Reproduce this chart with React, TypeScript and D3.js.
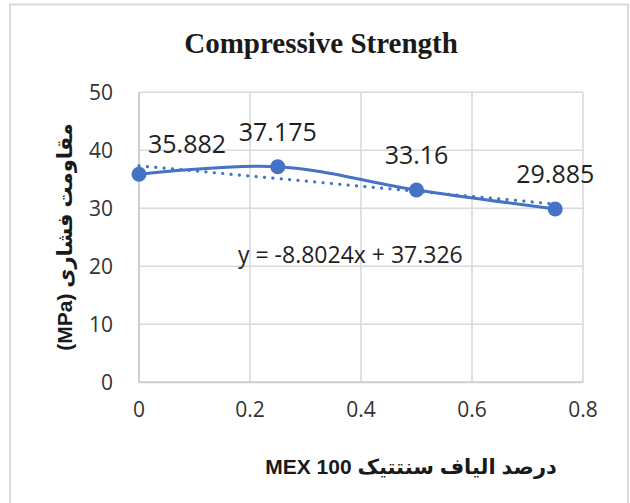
import React from "react";
import * as d3 from "d3";

const fiberPercent = [0, 0.25, 0.5, 0.75];
const strength = [35.882, 37.175, 33.16, 29.885];
const xTicks = [0, 0.2, 0.4, 0.6, 0.8];
const yTicks = [0, 10, 20, 30, 40, 50];
const title = "Compressive Strength";
const xTitle = "درصد الیاف سنتتیک MEX 100";
const yTitle = "مقاومت فشاری  (MPa)";

const W = 630;
const H = 503;
const BLUE = "#4472C4";
const GRID = "#d9d9d9";

export default function App() {
  const x = d3.scaleLinear().domain([0, 0.8]).range([139, 583]);
  const y = d3.scaleLinear().domain([0, 50]).range([382.3, 92.3]);

  const pts: [number, number][] = fiberPercent.map((v, i) => [v, strength[i]]);
  const line = d3
    .line<[number, number]>()
    .x((d) => x(d[0]))
    .y((d) => y(d[1]))
    .curve(d3.curveCatmullRom.alpha(0.5));

  // least squares trendline
  const mx = d3.mean(fiberPercent) as number;
  const my = d3.mean(strength) as number;
  const sxy = d3.sum(fiberPercent.map((v, i) => (v - mx) * (strength[i] - my)));
  const sxx = d3.sum(fiberPercent.map((v) => (v - mx) * (v - mx)));
  const slope = sxy / sxx;
  const intercept = my - slope * mx;
  const x0 = fiberPercent[0];
  const x1 = fiberPercent[fiberPercent.length - 1];
  const eq = `y = ${slope.toFixed(4)}x + ${intercept.toFixed(3)}`;

  const numFont = "'Open Sans', 'DejaVu Sans', sans-serif";
  const boldFont = "'Liberation Sans', 'DejaVu Sans', sans-serif";

  return (
    <div style={{ position: "absolute", left: 0, top: 0 }}>
      <svg width={W} height={H} style={{ display: "block", background: "#fff" }}>
        <rect x={10} y={4.5} width={618} height={505} fill="#fff" stroke={GRID} strokeWidth={2} />
        <text
          x={321}
          y={53}
          textAnchor="middle"
          fontFamily="'Liberation Serif', 'Times New Roman', serif"
          fontWeight="bold"
          fontSize={29}
          fill="#1a1a1a"
        >
          {title}
        </text>

        {/* horizontal gridlines */}
        {yTicks.map((t) => (
          <line key={"h" + t} x1={x(0)} x2={x(0.8)} y1={y(t)} y2={y(t)} stroke={GRID} strokeWidth={1.6} />
        ))}
        {/* vertical gridlines */}
        {xTicks.map((t) => (
          <line key={"v" + t} x1={x(t)} x2={x(t)} y1={y(0)} y2={y(50)} stroke={GRID} strokeWidth={1.6} />
        ))}
        <line x1={x(0)} x2={x(0)} y1={y(0)} y2={y(50)} stroke="#cfcfcf" strokeWidth={2} />
        <line x1={x(0)} x2={x(0.8)} y1={y(0)} y2={y(0)} stroke="#cfcfcf" strokeWidth={2} />

        {/* y tick labels */}
        {yTicks.map((t) => (
          <text
            key={"yt" + t}
            x={113}
            y={y(t)}
            dy="0.36em"
            textAnchor="end"
            fontFamily={numFont}
            fontSize={21}
            fill="#333"
          >
            {t}
          </text>
        ))}
        {/* x tick labels */}
        {xTicks.map((t) => (
          <text
            key={"xt" + t}
            x={x(t)}
            y={417}
            textAnchor="middle"
            fontFamily={numFont}
            fontSize={21}
            fill="#333"
          >
            {t}
          </text>
        ))}

        {/* trendline */}
        <line
          x1={x(x0)}
          y1={y(intercept + slope * x0)}
          x2={x(x1)}
          y2={y(intercept + slope * x1)}
          stroke={BLUE}
          strokeWidth={3.2}
          strokeDasharray="0.1 8.3"
          strokeLinecap="round"
        />

        {/* smoothed line */}
        <path d={line(pts) || ""} fill="none" stroke={BLUE} strokeWidth={3} />
        {pts.map((d, i) => (
          <circle key={"c" + i} cx={x(d[0])} cy={y(d[1])} r={7.5} fill={BLUE} />
        ))}

        {/* data labels */}
        {pts.map((d, i) => (
          <text
            key={"l" + i}
            x={i === 0 ? x(d[0]) + 48 : x(d[0])}
            y={y(d[1]) - (i === 0 ? 21 : 26)}
            textAnchor="middle"
            fontFamily={numFont}
            fontSize={25}
            fill="#1f1f1f"
          >
            {d[1]}
          </text>
        ))}

        {/* equation */}
        <text x={238} y={263} fontFamily={numFont} fontSize={23} fill="#1f1f1f">
          {eq}
        </text>

        {/* x title */}
        <text
          x={411}
          y={474}
          textAnchor="middle"
          direction="rtl"
          style={{ direction: "rtl", unicodeBidi: "embed" } as any}
          fontFamily={boldFont}
          fontWeight="bold"
          fontSize={21}
          fill="#1a1a1a"
        >
          {xTitle}
        </text>

        {/* y title */}
        <text
          transform={`translate(72, 237) rotate(-90)`}
          textAnchor="middle"
          direction="rtl"
          style={{ direction: "rtl", unicodeBidi: "embed" } as any}
          fontFamily={boldFont}
          fontWeight="bold"
          fontSize={21}
          fill="#1a1a1a"
        >
          {yTitle}
        </text>
      </svg>
    </div>
  );
}
